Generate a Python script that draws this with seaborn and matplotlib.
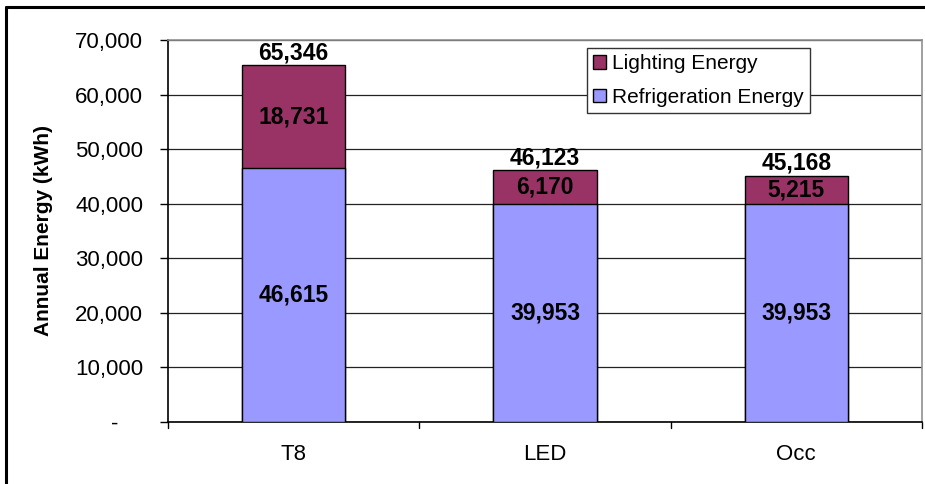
import matplotlib
matplotlib.use("Agg")
import matplotlib.pyplot as plt
import matplotlib.lines as mlines
from matplotlib.patches import Patch
from matplotlib.ticker import FuncFormatter
import seaborn as sns
import pandas as pd

# Annual energy per lighting option
categories = ["T8", "LED", "Occ"]
refrigeration = [46615, 39953, 39953]
lighting = [18731, 6170, 5215]
totals = [65346, 46123, 45168]

light_color = "#993366"
fridge_color = "#9999FF"

sns.set_theme(style="white")
plt.rcParams["font.family"] = ["Liberation Sans", "DejaVu Sans"]
plt.rcParams.update({"text.color": "black", "axes.labelcolor": "black",
                     "xtick.color": "black", "ytick.color": "black"})

df = pd.DataFrame({
    "option": categories,
    "refrigeration": refrigeration,
    "lighting": lighting,
    "total": [r + l for r, l in zip(refrigeration, lighting)],
})

fig = plt.figure(figsize=(9.25, 4.84), dpi=100)
ax = fig.add_axes([168 / 925, 1 - 422 / 484, (922 - 168) / 925, (422 - 40) / 484])

# Stacked bars: full height in the lighting colour, refrigeration drawn over it
sns.barplot(data=df, x="option", y="total", color=light_color, width=0.41,
            edgecolor="black", linewidth=1.0, saturation=1, ax=ax, zorder=3)
sns.barplot(data=df, x="option", y="refrigeration", color=fridge_color, width=0.41,
            edgecolor="black", linewidth=1.0, saturation=1, ax=ax, zorder=3)

ax.set_ylim(0, 70000)
ax.set_xlim(-0.5, 2.5)
ax.set_yticks(range(0, 70001, 10000))
# accounting-style axis labels: zero shown as a dash
ax.yaxis.set_major_formatter(FuncFormatter(lambda v, p: "-    " if v == 0 else f"{int(v):,}"))
ax.yaxis.grid(True, color="#222222", linewidth=0.9, zorder=0)
ax.set_axisbelow(True)

ax.set_xlabel("")
ax.set_ylabel("Annual Energy (kWh)", fontsize=15, fontweight="bold", labelpad=16)

ax.tick_params(axis="y", labelsize=16, length=6, width=1, color="black", left=True, pad=12)
ax.tick_params(axis="x", labelsize=16, length=0, pad=16)

# category separator ticks on the x axis
for xb in [-0.5, 0.5, 1.5, 2.5]:
    ax.plot([xb, xb], [0, -0.016], transform=ax.get_xaxis_transform(),
            color="black", linewidth=1, clip_on=False)

for side in ["left", "bottom"]:
    ax.spines[side].set_color("black")
    ax.spines[side].set_linewidth(1.2)
for side in ["top", "right"]:
    ax.spines[side].set_color("#909090")
    ax.spines[side].set_linewidth(1.2)

# value labels
for i, (r, l, t) in enumerate(zip(refrigeration, lighting, totals)):
    ax.text(i, r / 2, f"{r:,}", ha="center", va="center", fontsize=16.5, fontweight="bold", zorder=5)
    ax.text(i, r + l / 2, f"{l:,}", ha="center", va="center", fontsize=16.5, fontweight="bold", zorder=5)
    ax.text(i, r + l + 200, f"{t:,}", ha="center", va="bottom", fontsize=16.5, fontweight="bold", zorder=5)

handles = [Patch(facecolor=light_color, edgecolor="black", label="Lighting Energy"),
           Patch(facecolor=fridge_color, edgecolor="black", label="Refrigeration Energy")]
leg = ax.legend(handles=handles, loc="upper left", bbox_to_anchor=(0.556, 0.979),
                fontsize=15, frameon=True, fancybox=False, framealpha=1,
                handlelength=0.6, handleheight=0.6, handletextpad=0.3,
                borderpad=0.3, labelspacing=0.7, borderaxespad=0)
leg.get_frame().set_edgecolor("#333333")
leg.get_frame().set_linewidth(1.0)
leg.set_zorder(6)

# outer chart frame (left and top edges)
fig.add_artist(mlines.Line2D([5.5 / 925, 5.5 / 925], [0, 1 - 7 / 484],
                             transform=fig.transFigure, color="black", linewidth=2.2))
fig.add_artist(mlines.Line2D([5.5 / 925, 1], [1 - 7 / 484, 1 - 7 / 484],
                             transform=fig.transFigure, color="black", linewidth=2.2))

fig.savefig("out.png", dpi=100)
